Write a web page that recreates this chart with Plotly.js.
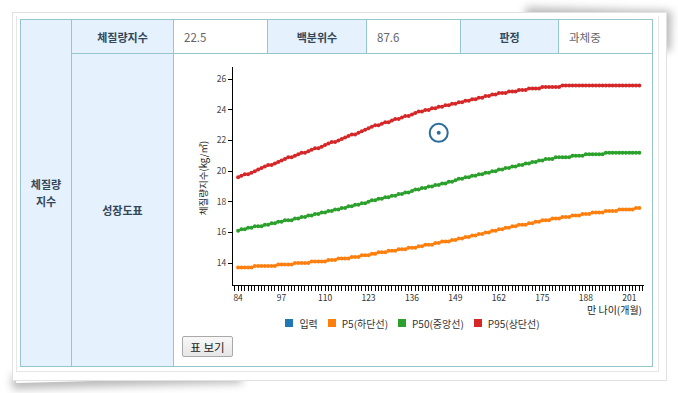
<!DOCTYPE html>
<html>
<head>
<meta charset="utf-8">
<script src="https://cdn.plot.ly/plotly-3.0.1.min.js"></script>
<style>
  html, body { margin:0; padding:0; background:#fff; width:678px; height:393px; overflow:hidden;
    font-family: "Malgun Gothic", "Noto Sans CJK KR", sans-serif; }
  .frame { position:absolute; left:12px; top:12px; width:653px; height:367px; background:#fff;
    border:1px solid #e2e2e2; z-index:1; }
  .shadow-bl { position:absolute; left:16px; top:366px; width:230px; height:14px;
    box-shadow: -4px 6px 8px rgba(0,0,0,0.28); transform: rotate(-1.5deg); z-index:0; background:#fff; }
  .shadow-tr { position:absolute; left:520px; top:14px; width:146px; height:40px;
    box-shadow: 5px -5px 8px rgba(0,0,0,0.28); transform: rotate(1.5deg); z-index:0; background:#fff; }
  .inner { position:absolute; left:16px; top:16px; width:641px; height:355px;
    border:1px solid #e6e6e6; border-top:none; z-index:2; }
  .cell { position:absolute; box-sizing:border-box; border:1px solid #95c5cd; z-index:3;
    display:flex; align-items:center; font-size:11px; }
  .hd { background:#e5f1fc; color:#34475a; font-weight:bold; justify-content:center; text-align:center; }
  .val { background:#fff; color:#666; padding-left:10px; font-size:11.5px; }
  #chart { position:absolute; left:173px; top:54px; width:479px; height:262px; z-index:5; }
  .legend { position:absolute; left:173px; top:317px; width:479px; height:12px; z-index:6;
    display:flex; justify-content:center; align-items:center; font-size:10px; color:#333; }
  .legend .it { display:flex; align-items:center; margin:0 5px; }
  .legend .sq { width:8px; height:8px; margin-right:6px; }
  .btn { position:absolute; left:182px; top:336px; width:51px; height:21px; z-index:6;
    box-sizing:border-box; border:1px solid #a9a9a9; border-radius:2px;
    background:linear-gradient(#f8f8f8,#e6e6e6); font-size:11.5px; color:#222;
    font-family: "Malgun Gothic", "Noto Sans CJK KR", sans-serif; padding:0; }
</style>
</head>
<body>
<div class="shadow-bl"></div>
<div class="shadow-tr"></div>
<div class="frame"></div>
<div class="inner"></div>

<div class="cell hd" style="left:20px;top:19px;width:52px;height:348px;line-height:17px;">체질량<br>지수</div>
<div class="cell hd" style="left:71px;top:19px;width:103px;height:35px;">체질량지수</div>
<div class="cell val" style="left:173px;top:19px;width:95px;height:35px;">22.5</div>
<div class="cell hd" style="left:267px;top:19px;width:100px;height:35px;">백분위수</div>
<div class="cell val" style="left:366px;top:19px;width:95px;height:35px;">87.6</div>
<div class="cell hd" style="left:460px;top:19px;width:99px;height:35px;">판정</div>
<div class="cell val" style="left:558px;top:19px;width:95px;height:35px;">과체중</div>
<div class="cell hd" style="left:71px;top:53px;width:103px;height:314px;">성장도표</div>
<div class="cell" style="left:173px;top:53px;width:480px;height:314px;background:#fff;"></div>

<div id="chart"></div>
<div class="legend">
  <div class="it"><div class="sq" style="background:#1f77b4"></div>입력</div>
  <div class="it"><div class="sq" style="background:#ff7f0e"></div>P5(하단선)</div>
  <div class="it"><div class="sq" style="background:#2ca02c"></div>P50(중앙선)</div>
  <div class="it"><div class="sq" style="background:#d62728"></div>P95(상단선)</div>
</div>
<button class="btn">표 보기</button>

<script>
const months = [84,85,86,87,88,89,90,91,92,93,94,95,96,97,
  98,99,100,101,102,103,104,105,106,107,108,109,110,
  111,112,113,114,115,116,117,118,119,120,121,122,123,
  124,125,126,127,128,129,130,131,132,133,134,135,136,
  137,138,139,140,141,142,143,144,145,146,147,148,149,
  150,151,152,153,154,155,156,157,158,159,160,161,162,
  163,164,165,166,167,168,169,170,171,172,173,174,175,
  176,177,178,179,180,181,182,183,184,185,186,187,188,
  189,190,191,192,193,194,195,196,197,198,199,200,201,
  202,203,204];

const p95 = [19.6,19.7,19.8,19.8,19.9,20.0,20.1,20.2,20.3,20.4,20.4,20.5,20.6,20.7,
  20.8,20.9,20.9,21.0,21.1,21.2,21.2,21.3,21.4,21.5,21.5,21.6,21.7,
  21.8,21.9,21.9,22.0,22.1,22.2,22.3,22.4,22.4,22.5,22.6,22.7,22.8,
  22.9,23.0,23.0,23.1,23.2,23.2,23.3,23.4,23.4,23.5,23.6,23.6,23.7,
  23.8,23.9,23.9,24.0,24.0,24.1,24.1,24.2,24.2,24.3,24.3,24.4,24.4,
  24.5,24.5,24.6,24.6,24.7,24.7,24.8,24.8,24.9,24.9,25.0,25.0,25.1,
  25.1,25.1,25.2,25.2,25.2,25.3,25.3,25.3,25.4,25.4,25.4,25.4,25.5,
  25.5,25.5,25.5,25.5,25.5,
  25.6,25.6,25.6,25.6,25.6,25.6,25.6,25.6,25.6,25.6,25.6,25.6,
  25.6,25.6,25.6,25.6,25.6,25.6,25.6,25.6,25.6,25.6,25.6,25.6];

const p50 = [16.1,16.2,16.2,16.3,16.3,16.4,16.4,16.4,16.5,16.5,16.6,16.6,16.7,16.7,
  16.8,16.8,16.8,16.9,16.9,17.0,17.0,17.1,17.1,17.2,17.2,17.3,17.3,
  17.4,17.4,17.5,17.5,17.6,17.6,17.7,17.7,17.8,17.8,17.9,17.9,18.0,
  18.1,18.1,18.2,18.2,18.3,18.3,18.4,18.4,18.5,18.5,18.6,18.6,18.7,
  18.8,18.8,18.9,18.9,19.0,19.0,19.1,19.1,19.2,19.2,19.3,19.3,19.4,
  19.5,19.5,19.6,19.6,19.7,19.7,19.8,19.8,19.9,19.9,20.0,20.0,20.1,
  20.1,20.2,20.2,20.3,20.3,20.4,20.4,20.5,20.5,20.6,20.6,20.7,20.7,
  20.8,20.8,20.8,
  20.9,20.9,20.9,20.9,20.9,
  21.0,21.0,21.0,21.0,
  21.1,21.1,21.1,21.1,21.1,21.1,
  21.2,21.2,21.2,21.2,21.2,21.2,21.2,21.2,21.2,21.2,21.2];

const p5 = [13.7,13.7,13.7,13.7,13.7,13.8,13.8,13.8,13.8,13.8,13.8,13.8,13.9,13.9,
  13.9,13.9,13.9,14.0,14.0,14.0,14.0,14.0,14.1,14.1,14.1,14.1,14.1,
  14.2,14.2,14.2,14.3,14.3,14.3,14.3,14.4,14.4,14.4,14.5,14.5,14.5,
  14.6,14.6,14.7,14.7,14.7,14.8,14.8,14.8,14.9,14.9,14.9,15.0,15.0,
  15.0,15.1,15.1,15.2,15.2,15.2,15.3,15.3,15.4,15.4,15.4,15.5,15.5,
  15.6,15.6,15.7,15.7,15.8,15.8,15.9,15.9,16.0,16.0,16.1,16.1,16.2,
  16.2,16.3,16.3,16.4,16.4,16.5,16.5,16.5,16.6,16.6,16.7,16.7,16.8,
  16.8,16.8,16.9,16.9,16.9,17.0,17.0,17.0,17.1,17.1,17.1,17.2,17.2,
  17.2,17.3,17.3,17.3,17.3,17.4,17.4,17.4,17.4,17.5,17.5,17.5,17.5,
  17.5,17.6,17.6];

const inputX = [144];
const inputY = [22.5];

const xTickStart = 84, xTickStep = 13;
const yTicks = [14,16,18,20,22,24,26];

const C = { input:'#2d6d9b', p5:'#ff7f0e', p50:'#2ca02c', p95:'#d62728' };
const FONT = '"Malgun Gothic", "Noto Sans CJK KR", sans-serif';

function curve(y, color) {
  return { x: months, y: y, type:'scatter', mode:'lines+markers',
    line:{color:color, width:2}, marker:{color:color, size:4}, showlegend:false, hoverinfo:'x+y' };
}

const data = [
  curve(p5, C.p5), curve(p50, C.p50), curve(p95, C.p95),
  { x: inputX, y: inputY, type:'scatter', mode:'markers', showlegend:false,
    marker:{symbol:'circle-open', size:18, color:C.input, line:{width:2, color:C.input}} },
  { x: inputX, y: inputY, type:'scatter', mode:'markers', showlegend:false,
    marker:{symbol:'circle', size:4, color:C.input} }
];

const layout = {
  width:479, height:262,
  margin:{l:60, r:8, t:13, b:31},
  paper_bgcolor:'rgba(0,0,0,0)', plot_bgcolor:'rgba(0,0,0,0)',
  font:{family:FONT, size:9, color:'#333'},
  showlegend:false,
  xaxis:{ range:[82.47, 205.4], tickmode:'linear', tick0:xTickStart, dtick:xTickStep,
    showgrid:false, zeroline:false, showline:true, linecolor:'#000', linewidth:1,
    ticks:'outside', ticklen:5, tickwidth:1, tickcolor:'#000',
    tickfont:{family:FONT, size:8.5, color:'#333'},
    minor:{dtick:1, ticks:'outside', ticklen:5, tickwidth:1, tickcolor:'#000', showgrid:false} },
  yaxis:{ range:[12.565, 26.8], tickmode:'array', tickvals:yTicks,
    showgrid:false, zeroline:false, showline:true, linecolor:'#000', linewidth:1,
    ticks:'outside', ticklen:4, tickwidth:1, tickcolor:'#000',
    tickfont:{family:FONT, size:8.5, color:'#444'} },
  annotations:[
    { text:'만 나이(개월)', xref:'paper', yref:'paper', x:1, y:0, xanchor:'right', yanchor:'middle',
      yshift:-24, xshift:0, showarrow:false, font:{family:FONT, size:10, color:'#222'} },
    { text:'체질량지수(kg/㎡)', xref:'paper', yref:'paper', x:0, y:0.49, xanchor:'center', yanchor:'middle',
      xshift:-30, textangle:-90, showarrow:false, font:{family:FONT, size:9.5, color:'#222'} }
  ]
};

Plotly.newPlot('chart', data, layout, {displayModeBar:false, staticPlot:true});
</script>
</body>
</html>
